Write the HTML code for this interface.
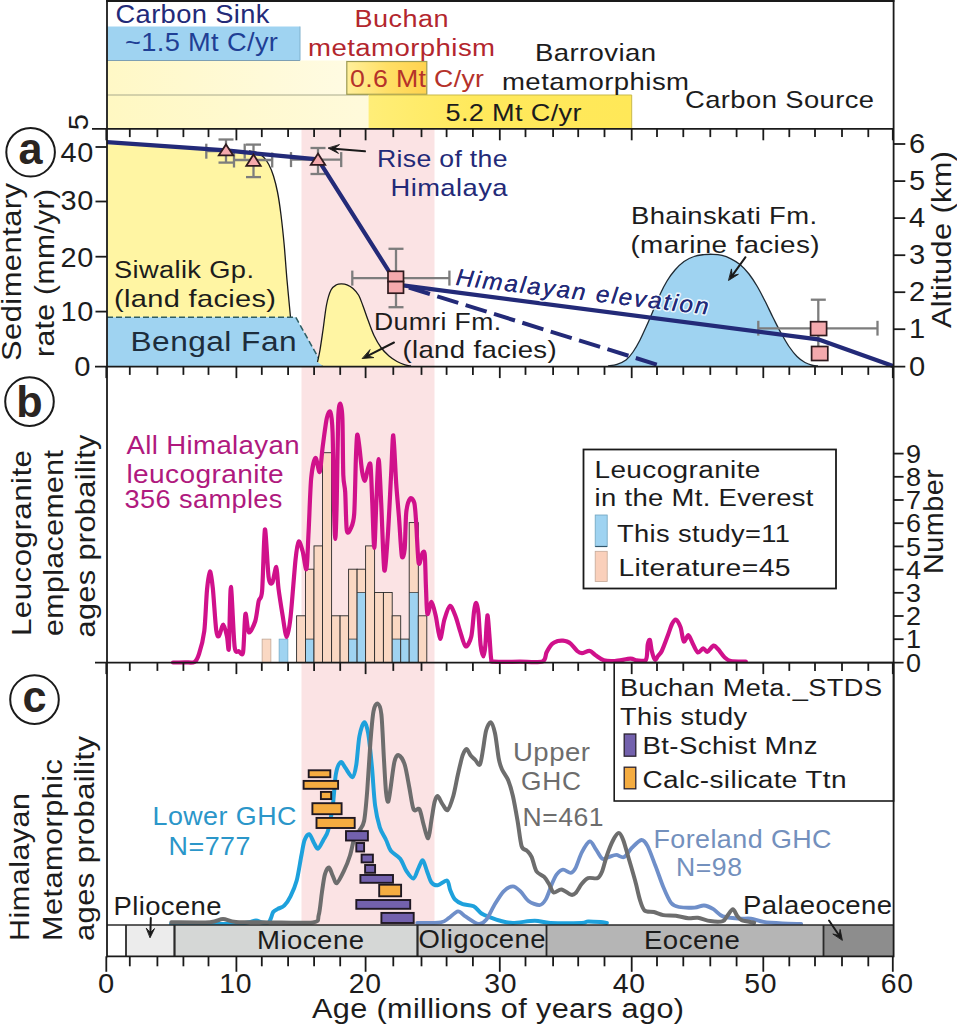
<!DOCTYPE html>
<html><head><meta charset="utf-8"><title>Himalaya figure</title>
<style>
html,body{margin:0;padding:0;background:#fff;}
body{width:957px;height:1024px;overflow:hidden;font-family:"Liberation Sans",sans-serif;}
svg{display:block;}
text{font-family:"Liberation Sans",sans-serif;}
</style></head><body>
<svg width="957" height="1024" viewBox="0 0 957 1024">
<rect x="0" y="0" width="957" height="1024" fill="#ffffff"/>
<defs>
<linearGradient id="ly1" x1="0" x2="1" y1="0" y2="0"><stop offset="0" stop-color="#fff8c6"/><stop offset="1" stop-color="#fffbe2"/></linearGradient>
<linearGradient id="ly2" x1="0" x2="1" y1="0" y2="0"><stop offset="0" stop-color="#fff8c2"/><stop offset="1" stop-color="#fffadb"/></linearGradient>
<linearGradient id="obox" x1="0" x2="1" y1="0" y2="0"><stop offset="0" stop-color="#ffef9a"/><stop offset="0.5" stop-color="#ffdf66"/><stop offset="1" stop-color="#ffd24e"/></linearGradient>
<linearGradient id="ybox" x1="0" x2="1" y1="0" y2="0"><stop offset="0" stop-color="#ffee78"/><stop offset="0.4" stop-color="#ffe95c"/><stop offset="1" stop-color="#ffe858"/></linearGradient>
</defs>
<rect x="301.5" y="129" width="133" height="796" fill="#fbe3e4"/>
<rect x="107" y="26.5" width="193" height="34" fill="#9fd3f1"/>
<rect x="107" y="60.5" width="240" height="34.5" fill="url(#ly1)"/>
<rect x="107" y="95" width="261.5" height="33.5" fill="url(#ly2)"/>
<line x1="107" y1="60.5" x2="300" y2="60.5" stroke="#7d9fb3" stroke-width="1"/>
<line x1="107" y1="95" x2="368" y2="95" stroke="#a9aa8c" stroke-width="1"/>
<line x1="300" y1="26.5" x2="300" y2="60.5" stroke="#7fb0cc" stroke-width="1"/>
<rect x="346.8" y="61.5" width="80" height="32.8" fill="url(#obox)" stroke="#9c9a52" stroke-width="1.2"/>
<rect x="368.5" y="95" width="263.2" height="33.3" fill="url(#ybox)"/>
<line x1="368.5" y1="95" x2="631.7" y2="95" stroke="#c9b94a" stroke-width="1"/>
<line x1="631.7" y1="95" x2="631.7" y2="128" stroke="#c9b94a" stroke-width="1"/>
<text x="0" y="0" font-size="25.00" fill="#232a78" transform="translate(115.5 22.6) scale(1.091 1)" textLength="141.1" lengthAdjust="spacing" >Carbon Sink</text>
<text x="0" y="0" font-size="25.30" fill="#1f3f95" transform="translate(125 51.4) scale(1.077 1)" textLength="142.0" lengthAdjust="spacing" >~1.5 Mt C/yr</text>
<text x="0" y="0" font-size="23.00" fill="#b3262d" transform="translate(354.5 27.2) scale(1.175 1)" textLength="80.0" lengthAdjust="spacing" >Buchan</text>
<text x="0" y="0" font-size="23.00" fill="#b3262d" transform="translate(308 56.2) scale(1.199 1)" textLength="156.0" lengthAdjust="spacing" >metamorphism</text>
<text x="0" y="0" font-size="24.00" fill="#b5322a" transform="translate(350 87) scale(1.113 1)" textLength="120.4" lengthAdjust="spacing" >0.6 Mt C/yr</text>
<text x="0" y="0" font-size="24.00" fill="#1c1c1c" transform="translate(535 60.7) scale(1.149 1)" textLength="105.4" lengthAdjust="spacing" >Barrovian</text>
<text x="0" y="0" font-size="24.00" fill="#1c1c1c" transform="translate(502 89.5) scale(1.149 1)" textLength="162.8" lengthAdjust="spacing" >metamorphism</text>
<text x="0" y="0" font-size="24.00" fill="#1c1c1c" transform="translate(685 107.8) scale(1.142 1)" textLength="165.6" lengthAdjust="spacing" >Carbon Source</text>
<text x="0" y="0" font-size="24.50" fill="#1c1c1c" transform="translate(445.5 120.6) scale(1.107 1)" textLength="122.9" lengthAdjust="spacing" >5.2 Mt C/yr</text>
<path d="M107,144 L226,150.5 L249.0,150.8 C250.3,151.1 254.6,151.6 257.0,152.6 C259.4,153.6 261.5,155.0 263.5,157.0 C265.5,159.0 267.1,161.3 268.8,164.5 C270.5,167.7 272.1,171.4 273.5,176.0 C274.9,180.6 276.2,185.5 277.5,192.0 C278.8,198.5 279.9,206.2 281.0,215.0 C282.1,223.8 283.2,234.2 284.2,245.0 C285.2,255.8 285.9,268.0 287.0,280.0 C288.1,292.0 289.9,311.0 290.5,317.2 L107,317.2 Z" fill="#fff5a3"/>
<path d="M249.0,150.8 C250.3,151.1 254.6,151.6 257.0,152.6 C259.4,153.6 261.5,155.0 263.5,157.0 C265.5,159.0 267.1,161.3 268.8,164.5 C270.5,167.7 272.1,171.4 273.5,176.0 C274.9,180.6 276.2,185.5 277.5,192.0 C278.8,198.5 279.9,206.2 281.0,215.0 C282.1,223.8 283.2,234.2 284.2,245.0 C285.2,255.8 285.9,268.0 287.0,280.0 C288.1,292.0 289.9,311.0 290.5,317.2" fill="none" stroke="#1a1a1a" stroke-width="1.3"/>
<path d="M107,317.2 L295.7,317.2 L323,366 L107,366 Z" fill="#9fd3f1"/>
<path d="M107,317.2 L295.7,317.2 L323,366" fill="none" stroke="#2e5d63" stroke-width="1.5" stroke-dasharray="6,3"/>
<path d="M317.5,362.0 C317.9,360.0 319.1,355.3 320.0,350.0 C320.9,344.7 321.9,337.5 323.0,330.0 C324.1,322.5 325.2,311.7 326.5,305.0 C327.8,298.3 329.3,293.4 331.0,290.0 C332.7,286.6 334.7,285.8 336.5,284.8 C338.3,283.8 339.9,283.9 341.6,283.9 C343.4,283.9 345.1,284.0 347.0,284.8 C348.9,285.6 351.1,286.8 353.0,288.5 C354.9,290.2 356.8,292.1 358.5,295.0 C360.2,297.9 361.4,301.8 363.0,306.0 C364.6,310.2 366.2,315.1 368.0,320.0 C369.8,324.9 371.8,330.9 374.0,335.5 C376.2,340.1 378.5,344.1 381.0,347.5 C383.5,350.9 386.3,353.7 389.0,356.0 C391.7,358.3 394.3,360.0 397.0,361.5 C399.7,363.0 402.7,364.1 405.0,364.8 C407.3,365.6 410.0,365.8 411.0,366.0 L323,366 Z" fill="#fff5a3"/>
<path d="M317.5,362.0 C317.9,360.0 319.1,355.3 320.0,350.0 C320.9,344.7 321.9,337.5 323.0,330.0 C324.1,322.5 325.2,311.7 326.5,305.0 C327.8,298.3 329.3,293.4 331.0,290.0 C332.7,286.6 334.7,285.8 336.5,284.8 C338.3,283.8 339.9,283.9 341.6,283.9 C343.4,283.9 345.1,284.0 347.0,284.8 C348.9,285.6 351.1,286.8 353.0,288.5 C354.9,290.2 356.8,292.1 358.5,295.0 C360.2,297.9 361.4,301.8 363.0,306.0 C364.6,310.2 366.2,315.1 368.0,320.0 C369.8,324.9 371.8,330.9 374.0,335.5 C376.2,340.1 378.5,344.1 381.0,347.5 C383.5,350.9 386.3,353.7 389.0,356.0 C391.7,358.3 394.3,360.0 397.0,361.5 C399.7,363.0 402.7,364.1 405.0,364.8 C407.3,365.6 410.0,365.8 411.0,366.0" fill="none" stroke="#1a1a1a" stroke-width="1.3"/>
<path d="M608.0,366.0 C609.5,365.7 614.0,365.3 617.0,364.3 C620.0,363.3 623.3,362.1 626.0,360.0 C628.7,357.9 630.7,355.3 633.0,352.0 C635.3,348.7 637.8,344.3 640.0,340.0 C642.2,335.7 644.3,330.8 646.5,326.0 C648.7,321.2 650.8,316.2 653.0,311.0 C655.2,305.8 657.7,299.5 660.0,294.5 C662.3,289.5 664.5,285.1 667.0,281.0 C669.5,276.9 672.2,273.2 675.0,270.0 C677.8,266.8 680.8,263.8 684.0,261.5 C687.2,259.2 690.7,257.6 694.0,256.5 C697.3,255.3 700.8,255.0 704.0,254.6 C707.2,254.2 710.0,254.2 713.0,254.3 C716.0,254.4 719.0,254.7 722.0,255.4 C725.0,256.1 728.0,257.3 731.0,258.8 C734.0,260.3 737.0,262.0 740.0,264.5 C743.0,267.0 746.2,270.4 749.0,274.0 C751.8,277.6 754.3,281.5 757.0,286.0 C759.7,290.5 762.3,295.8 765.0,301.0 C767.7,306.2 770.3,312.2 773.0,317.5 C775.7,322.8 778.3,328.2 781.0,333.0 C783.7,337.8 786.3,342.6 789.0,346.5 C791.7,350.4 794.3,353.8 797.0,356.5 C799.7,359.2 802.3,361.0 805.0,362.5 C807.7,364.0 810.8,364.9 813.0,365.5 C815.2,366.1 817.2,365.9 818.0,366.0 Z" fill="#9fd3f1"/>
<path d="M608.0,366.0 C609.5,365.7 614.0,365.3 617.0,364.3 C620.0,363.3 623.3,362.1 626.0,360.0 C628.7,357.9 630.7,355.3 633.0,352.0 C635.3,348.7 637.8,344.3 640.0,340.0 C642.2,335.7 644.3,330.8 646.5,326.0 C648.7,321.2 650.8,316.2 653.0,311.0 C655.2,305.8 657.7,299.5 660.0,294.5 C662.3,289.5 664.5,285.1 667.0,281.0 C669.5,276.9 672.2,273.2 675.0,270.0 C677.8,266.8 680.8,263.8 684.0,261.5 C687.2,259.2 690.7,257.6 694.0,256.5 C697.3,255.3 700.8,255.0 704.0,254.6 C707.2,254.2 710.0,254.2 713.0,254.3 C716.0,254.4 719.0,254.7 722.0,255.4 C725.0,256.1 728.0,257.3 731.0,258.8 C734.0,260.3 737.0,262.0 740.0,264.5 C743.0,267.0 746.2,270.4 749.0,274.0 C751.8,277.6 754.3,281.5 757.0,286.0 C759.7,290.5 762.3,295.8 765.0,301.0 C767.7,306.2 770.3,312.2 773.0,317.5 C775.7,322.8 778.3,328.2 781.0,333.0 C783.7,337.8 786.3,342.6 789.0,346.5 C791.7,350.4 794.3,353.8 797.0,356.5 C799.7,359.2 802.3,361.0 805.0,362.5 C807.7,364.0 810.8,364.9 813.0,365.5 C815.2,366.1 817.2,365.9 818.0,366.0" fill="none" stroke="#1f2a33" stroke-width="1.3"/>
<text x="0" y="0" font-size="24.00" fill="#1c1c1c" transform="translate(114 278.4) scale(1.137 1)" textLength="123.1" lengthAdjust="spacing" >Siwalik Gp.</text>
<text x="0" y="0" font-size="24.00" fill="#1c1c1c" transform="translate(114 307) scale(1.208 1)" textLength="134.1" lengthAdjust="spacing" >(land facies)</text>
<text x="0" y="0" font-size="27.50" fill="#1d2d3c" transform="translate(130.5 350.8) scale(1.151 1)" textLength="144.3" lengthAdjust="spacing" >Bengal Fan</text>
<text x="0" y="0" font-size="24.00" fill="#1c1c1c" transform="translate(374 329.6) scale(1.106 1)" textLength="114.9" lengthAdjust="spacing" >Dumri Fm.</text>
<text x="0" y="0" font-size="24.00" fill="#1c1c1c" transform="translate(402.5 357.8) scale(1.149 1)" textLength="134.1" lengthAdjust="spacing" >(land facies)</text>
<text x="0" y="0" font-size="24.00" fill="#1c1c1c" transform="translate(631 223.8) scale(1.143 1)" textLength="162.8" lengthAdjust="spacing" >Bhainskati Fm.</text>
<text x="0" y="0" font-size="24.00" fill="#1c1c1c" transform="translate(630.5 252.6) scale(1.161 1)" textLength="162.8" lengthAdjust="spacing" >(marine facies)</text>
<text x="0" y="0" font-size="24.00" fill="#232a78" transform="translate(377 167) scale(1.109 1)" textLength="117.7" lengthAdjust="spacing" >Rise of the</text>
<text x="0" y="0" font-size="24.00" fill="#232a78" transform="translate(390.5 196) scale(1.140 1)" textLength="102.6" lengthAdjust="spacing" >Himalaya</text>
<g stroke="#7d7d7d" stroke-width="2.3" fill="none"><line x1="206.3" y1="151.2" x2="244.7" y2="151.2"/><line x1="206.3" y1="143.7" x2="206.3" y2="158.7"/><line x1="244.7" y1="143.7" x2="244.7" y2="158.7"/><line x1="226" y1="139.5" x2="226" y2="162.6"/><line x1="218.5" y1="139.5" x2="233.5" y2="139.5"/><line x1="218.5" y1="162.6" x2="233.5" y2="162.6"/></g>
<g stroke="#7d7d7d" stroke-width="2.3" fill="none"><line x1="234" y1="160" x2="272.2" y2="160"/><line x1="234" y1="152.5" x2="234" y2="167.5"/><line x1="272.2" y1="152.5" x2="272.2" y2="167.5"/><line x1="253.5" y1="144.6" x2="253.5" y2="177.1"/><line x1="246.0" y1="144.6" x2="261.0" y2="144.6"/><line x1="246.0" y1="177.1" x2="261.0" y2="177.1"/></g>
<g stroke="#7d7d7d" stroke-width="2.3" fill="none"><line x1="291" y1="159.6" x2="341.2" y2="159.6"/><line x1="291" y1="152.1" x2="291" y2="167.1"/><line x1="341.2" y1="152.1" x2="341.2" y2="167.1"/><line x1="318" y1="148" x2="318" y2="174"/><line x1="310.5" y1="148" x2="325.5" y2="148"/><line x1="310.5" y1="174" x2="325.5" y2="174"/></g>
<g stroke="#7d7d7d" stroke-width="2.3" fill="none"><line x1="352.3" y1="278.1" x2="449.4" y2="278.1"/><line x1="352.3" y1="270.6" x2="352.3" y2="285.6"/><line x1="449.4" y1="270.6" x2="449.4" y2="285.6"/><line x1="396" y1="248.8" x2="396" y2="307.2"/><line x1="388.5" y1="248.8" x2="403.5" y2="248.8"/><line x1="388.5" y1="307.2" x2="403.5" y2="307.2"/></g>
<g stroke="#7d7d7d" stroke-width="2.3" fill="none"><line x1="758.3" y1="328.3" x2="877.5" y2="328.3"/><line x1="758.3" y1="320.8" x2="758.3" y2="335.6"/><line x1="877.5" y1="320.8" x2="877.5" y2="335.6"/><line x1="818.3" y1="299.7" x2="818.3" y2="347"/><line x1="810.8" y1="299.7" x2="825.8" y2="299.7"/></g>
<path d="M396,283.5 L661.5,366" fill="none" stroke="#232a78" stroke-width="4" stroke-dasharray="22,7.7" stroke-dashoffset="16.2"/>
<path d="M107,142.2 L226,150.3 L253,153.2 L318,159.3 L396,282.5 L397,284.6 L818,339.3 L893,366" fill="none" stroke="#232a78" stroke-width="4.2" stroke-linejoin="round"/>
<text x="0" y="0" font-size="23.6" font-style="italic" fill="#232a78" textLength="249.0" lengthAdjust="spacing" transform="translate(455.2 285) rotate(6.7) scale(1.02 1)" stroke="#ffffff" stroke-width="3.2" stroke-opacity="0.8" paint-order="stroke" stroke-linejoin="round">Himalayan elevation</text>
<text x="0" y="0" font-size="23.6" font-style="italic" fill="#232a78" textLength="249.0" lengthAdjust="spacing" transform="translate(455.2 285) rotate(6.7) scale(1.02 1)" >Himalayan elevation</text>
<path d="M226,144.4 L233.2,155.3 L218.8,155.3 Z" fill="#f4a9ad" stroke="#2e1a1e" stroke-width="1.8" stroke-linejoin="miter"/>
<path d="M253.5,154.4 L260.7,165.8 L246.3,165.8 Z" fill="#f4a9ad" stroke="#2e1a1e" stroke-width="1.8" stroke-linejoin="miter"/>
<path d="M318,153.6 L325.2,164.8 L310.8,164.8 Z" fill="#f4a9ad" stroke="#2e1a1e" stroke-width="1.8" stroke-linejoin="miter"/>
<rect x="388" y="271.3" width="15.5" height="10.3" fill="#f4a9ad" stroke="#2e1a1e" stroke-width="1.7"/>
<rect x="388" y="281.6" width="15.5" height="11.6" fill="#f4a9ad" stroke="#2e1a1e" stroke-width="1.7"/>
<rect x="810.6" y="321.7" width="16" height="13.8" fill="#f4a9ad" stroke="#2e1a1e" stroke-width="1.7"/>
<rect x="811.6" y="346.5" width="16.2" height="14" fill="#f4a9ad" stroke="#2e1a1e" stroke-width="1.7"/>
<g stroke="#1a1a1a" fill="#1a1a1a" stroke-linejoin="round" stroke-linecap="round"><line x1="365.0" y1="151.3" x2="334.2" y2="148.7" stroke-width="2.0"/><path d="M328.4,148.2 L338.5,153.4 L334.2,148.7 L339.2,144.8 Z" stroke-width="0.9"/></g>
<g stroke="#1a1a1a" fill="#1a1a1a" stroke-linejoin="round" stroke-linecap="round"><line x1="394.0" y1="342.5" x2="367.6" y2="355.9" stroke-width="2.0"/><path d="M362.5,358.5 L373.8,357.6 L367.6,355.9 L369.9,349.9 Z" stroke-width="0.9"/></g>
<g stroke="#1a1a1a" fill="#1a1a1a" stroke-linejoin="round" stroke-linecap="round"><line x1="745.5" y1="257.2" x2="732.2" y2="275.6" stroke-width="2.0"/><path d="M728.8,280.3 L738.4,274.3 L732.2,275.6 L731.5,269.3 Z" stroke-width="0.9"/></g>
<rect x="262.1" y="639.1" width="8.8" height="23.3" fill="#fad8c3" stroke="#b9a08f" stroke-width="0.7"/>
<rect x="279.1" y="639.1" width="8.8" height="23.3" fill="#9fd3f1" stroke="#6fa6c4" stroke-width="0.7"/>
<rect x="296.6" y="615.8" width="8.9" height="46.6" fill="#fad8c3"/>
<rect x="296.6" y="615.8" width="8.9" height="46.6" fill="none" stroke="#2a2a2a" stroke-width="0.9"/>
<rect x="305.5" y="569.2" width="8.5" height="93.2" fill="#fad8c3"/>
<rect x="305.5" y="639.1" width="8.5" height="23.3" fill="#9fd3f1"/>
<rect x="305.5" y="569.2" width="8.5" height="93.2" fill="none" stroke="#2a2a2a" stroke-width="0.9"/>
<line x1="305.5" y1="639.1" x2="314" y2="639.1" stroke="#2a2a2a" stroke-width="0.7"/>
<rect x="314" y="545.9" width="8.5" height="116.5" fill="#fad8c3"/>
<rect x="314" y="545.9" width="8.5" height="116.5" fill="none" stroke="#2a2a2a" stroke-width="0.9"/>
<rect x="322.5" y="452.7" width="9.1" height="209.7" fill="#fad8c3"/>
<rect x="322.5" y="452.7" width="9.1" height="209.7" fill="none" stroke="#2a2a2a" stroke-width="0.9"/>
<rect x="331.6" y="615.8" width="8.5" height="46.6" fill="#fad8c3"/>
<rect x="331.6" y="615.8" width="8.5" height="46.6" fill="none" stroke="#2a2a2a" stroke-width="0.9"/>
<rect x="340.1" y="615.8" width="8.5" height="46.6" fill="#fad8c3"/>
<rect x="340.1" y="615.8" width="8.5" height="46.6" fill="none" stroke="#2a2a2a" stroke-width="0.9"/>
<rect x="348.6" y="569.2" width="8.5" height="93.2" fill="#fad8c3"/>
<rect x="348.6" y="639.1" width="8.5" height="23.3" fill="#9fd3f1"/>
<rect x="348.6" y="569.2" width="8.5" height="93.2" fill="none" stroke="#2a2a2a" stroke-width="0.9"/>
<line x1="348.6" y1="639.1" x2="357.1" y2="639.1" stroke="#2a2a2a" stroke-width="0.7"/>
<rect x="357.1" y="569.2" width="8.5" height="93.2" fill="#fad8c3"/>
<rect x="357.1" y="592.5" width="8.5" height="69.9" fill="#9fd3f1"/>
<rect x="357.1" y="569.2" width="8.5" height="93.2" fill="none" stroke="#2a2a2a" stroke-width="0.9"/>
<line x1="357.1" y1="592.5" x2="365.6" y2="592.5" stroke="#2a2a2a" stroke-width="0.7"/>
<rect x="365.6" y="545.9" width="9.0" height="116.5" fill="#fad8c3"/>
<rect x="365.6" y="545.9" width="9.0" height="116.5" fill="none" stroke="#2a2a2a" stroke-width="0.9"/>
<rect x="374.6" y="592.5" width="8.8" height="69.9" fill="#fad8c3"/>
<rect x="374.6" y="592.5" width="8.8" height="69.9" fill="none" stroke="#2a2a2a" stroke-width="0.9"/>
<rect x="383.4" y="592.5" width="8.8" height="69.9" fill="#fad8c3"/>
<rect x="383.4" y="592.5" width="8.8" height="69.9" fill="none" stroke="#2a2a2a" stroke-width="0.9"/>
<rect x="392.2" y="615.8" width="8.5" height="46.6" fill="#fad8c3"/>
<rect x="392.2" y="639.1" width="8.5" height="23.3" fill="#9fd3f1"/>
<rect x="392.2" y="615.8" width="8.5" height="46.6" fill="none" stroke="#2a2a2a" stroke-width="0.9"/>
<line x1="392.2" y1="639.1" x2="400.7" y2="639.1" stroke="#2a2a2a" stroke-width="0.7"/>
<rect x="400.7" y="639.1" width="8.5" height="23.3" fill="#fad8c3"/>
<rect x="400.7" y="639.1" width="8.5" height="23.3" fill="#9fd3f1"/>
<rect x="400.7" y="639.1" width="8.5" height="23.3" fill="none" stroke="#2a2a2a" stroke-width="0.9"/>
<rect x="409.2" y="522.6" width="9.1" height="139.8" fill="#fad8c3"/>
<rect x="409.2" y="592.5" width="9.1" height="69.9" fill="#9fd3f1"/>
<rect x="409.2" y="522.6" width="9.1" height="139.8" fill="none" stroke="#2a2a2a" stroke-width="0.9"/>
<line x1="409.2" y1="592.5" x2="418.3" y2="592.5" stroke="#2a2a2a" stroke-width="0.7"/>
<rect x="418.3" y="615.8" width="8.5" height="46.6" fill="#fad8c3"/>
<rect x="418.3" y="615.8" width="8.5" height="46.6" fill="none" stroke="#2a2a2a" stroke-width="0.9"/>
<path d="M173.0,662.5 C174.7,662.5 182.0,662.4 185.0,662.3 C188.0,662.2 192.5,663.2 194.5,662.0 C196.5,660.8 197.6,658.3 199.0,654.0 C200.4,649.7 203.2,640.0 204.3,631.0 C205.4,622.0 206.2,598.3 207.0,590.0 C207.8,581.7 209.1,571.8 209.9,571.5 C210.7,571.2 211.9,579.8 212.8,588.0 C213.7,596.2 215.3,623.3 216.2,630.0 C217.1,636.7 218.0,636.8 219.0,636.0 C220.0,635.2 222.2,624.5 223.3,624.6 C224.4,624.7 226.2,633.2 227.0,636.5 C227.8,639.8 228.4,654.9 228.9,648.0 C229.4,641.1 230.1,587.2 230.9,587.0 C231.7,586.8 233.5,637.4 234.6,646.4 C235.7,655.4 237.7,650.5 238.9,651.3 C240.1,652.1 242.2,657.3 243.1,652.1 C244.0,646.9 244.6,616.8 245.4,614.0 C246.2,611.2 247.4,631.3 248.8,632.3 C250.2,633.3 253.9,625.4 255.3,621.0 C256.7,616.6 257.7,605.2 258.7,601.0 C259.7,596.8 261.2,601.0 262.1,591.0 C263.0,581.0 264.0,531.4 264.9,529.4 C265.8,527.4 267.6,569.5 268.6,577.0 C269.6,584.5 271.2,584.1 272.3,582.7 C273.4,581.3 275.4,566.2 276.3,567.0 C277.2,567.8 277.6,581.4 278.5,588.4 C279.4,595.4 281.7,609.9 282.8,616.7 C283.9,623.5 285.6,637.0 286.7,637.0 C287.8,637.0 289.4,627.5 290.6,616.7 C291.8,605.9 294.4,570.5 295.5,560.0 C296.6,549.5 297.7,542.8 298.7,541.6 C299.7,540.4 301.6,547.7 302.7,551.5 C303.8,555.3 305.7,571.8 306.5,569.0 C307.3,566.2 307.9,544.4 308.6,531.7 C309.3,519.0 310.2,488.3 311.2,478.0 C312.2,467.7 314.3,458.8 315.5,458.0 C316.7,457.2 318.7,473.6 319.7,472.0 C320.7,470.4 321.7,454.2 322.7,446.7 C323.7,439.2 325.7,423.2 326.8,418.3 C327.9,413.4 329.6,410.0 330.4,412.0 C331.2,414.0 332.1,419.8 332.6,432.5 C333.1,445.2 333.5,488.1 333.9,503.0 C334.3,517.9 334.9,539.0 335.3,539.0 C335.7,539.0 336.3,519.9 336.7,503.0 C337.1,486.1 337.7,432.2 338.2,418.3 C338.7,404.4 339.8,403.6 340.4,403.6 C341.0,403.6 342.0,408.3 342.4,418.3 C342.8,428.3 342.9,464.7 343.3,475.0 C343.7,485.3 344.7,484.3 345.2,492.0 C345.7,499.7 346.0,525.2 346.8,530.3 C347.6,535.4 349.8,530.8 350.8,528.5 C351.8,526.2 353.5,523.5 354.2,514.0 C354.9,504.6 355.4,472.1 355.8,461.0 C356.2,449.9 356.7,436.8 357.2,434.8 C357.7,432.8 358.7,441.8 359.4,447.0 C360.1,452.2 361.4,467.5 362.2,472.2 C363.0,476.9 364.2,481.1 365.0,480.7 C365.8,480.3 367.0,471.5 367.8,469.3 C368.6,467.1 369.9,460.3 370.5,465.0 C371.1,469.7 371.8,491.4 372.3,503.0 C372.8,514.6 373.7,548.0 374.3,548.0 C374.9,548.0 375.7,515.5 376.3,503.0 C376.9,490.5 377.9,459.0 378.6,459.0 C379.3,459.0 380.4,487.5 381.2,503.0 C382.0,518.5 383.4,565.2 384.3,570.0 C385.2,574.8 386.7,550.7 387.7,537.4 C388.7,524.1 390.3,489.3 391.1,475.0 C391.9,460.7 392.6,434.1 393.3,435.3 C394.0,436.5 395.4,472.0 396.2,483.5 C397.0,495.0 398.2,507.4 399.0,517.5 C399.8,527.6 401.0,551.4 401.8,555.8 C402.6,560.2 404.1,554.8 404.7,548.7 C405.3,542.6 405.5,519.0 406.3,512.0 C407.1,505.0 409.2,499.7 410.3,498.5 C411.4,497.3 413.6,499.8 414.4,503.3 C415.2,506.8 415.6,514.8 416.2,523.2 C416.8,531.6 417.8,558.8 418.7,563.0 C419.6,567.2 421.6,554.1 422.5,553.0 C423.4,551.9 424.3,550.0 424.8,555.0 C425.3,560.0 425.6,580.1 426.0,588.4 C426.4,596.7 426.6,612.1 427.4,614.0 C428.2,615.9 430.4,601.6 431.6,602.0 C432.8,602.4 434.7,611.5 435.9,616.7 C437.1,621.9 438.9,638.4 440.1,638.8 C441.3,639.2 443.0,624.1 444.4,619.5 C445.8,614.9 448.4,606.3 450.0,605.9 C451.6,605.5 454.3,613.2 455.7,616.7 C457.1,620.2 458.6,626.7 460.0,630.9 C461.4,635.1 464.0,645.6 465.6,646.4 C467.2,647.2 470.1,641.5 471.3,636.5 C472.5,631.5 473.4,615.7 474.1,611.0 C474.8,606.3 475.6,602.6 476.2,603.0 C476.8,603.4 477.9,608.1 478.5,614.0 C479.1,619.9 479.9,639.1 480.6,645.0 C481.3,650.9 482.8,656.4 483.5,656.4 C484.2,656.4 484.9,650.8 485.4,645.0 C485.9,639.2 486.8,616.1 487.4,615.3 C488.0,614.5 489.2,633.3 489.7,639.4 C490.2,645.5 490.6,656.1 491.2,659.2 C491.8,662.3 490.0,661.4 494.0,661.7 C498.0,662.1 513.2,661.7 520.0,661.7 C526.8,661.7 538.8,662.8 542.5,661.5 C546.2,660.2 545.2,655.0 546.5,652.5 C547.8,650.0 550.4,645.6 552.0,644.0 C553.6,642.4 556.5,641.5 558.0,641.0 C559.5,640.5 561.7,640.5 563.0,640.6 C564.3,640.7 565.9,641.0 567.0,641.5 C568.1,642.0 569.6,642.7 571.0,644.0 C572.4,645.3 575.7,649.7 577.2,651.0 C578.7,652.3 580.2,653.1 582.0,653.1 C583.8,653.1 587.7,650.5 589.7,650.9 C591.7,651.2 594.0,654.3 596.0,655.6 C598.0,656.9 601.2,659.5 603.8,660.3 C606.4,661.1 611.1,661.2 614.8,661.0 C618.5,660.8 627.4,658.8 630.5,658.7 C633.6,658.6 634.5,660.2 636.7,660.3 C638.9,660.4 644.5,661.9 646.0,659.7 C647.5,657.5 647.2,647.4 647.7,644.6 C648.2,641.8 649.3,639.1 649.9,640.0 C650.5,640.9 651.1,648.2 651.8,651.0 C652.5,653.8 654.0,659.0 654.9,659.7 C655.8,660.4 657.0,657.2 658.0,656.0 C659.0,654.8 660.4,653.9 661.8,651.0 C663.2,648.1 666.6,638.8 668.0,635.0 C669.4,631.2 670.9,626.2 672.0,624.0 C673.1,621.8 674.7,619.1 675.9,619.6 C677.1,620.1 679.5,624.3 680.6,627.4 C681.7,630.5 682.7,640.4 683.8,641.5 C684.9,642.6 687.2,634.8 688.5,635.2 C689.8,635.6 691.9,642.2 693.2,644.6 C694.5,647.0 696.5,652.0 697.9,652.5 C699.3,653.0 701.9,648.5 703.2,648.4 C704.5,648.3 705.9,652.2 707.3,651.8 C708.7,651.4 712.0,646.0 713.5,645.6 C715.0,645.2 716.7,647.7 718.2,649.3 C719.7,650.9 722.7,655.6 724.5,657.2 C726.3,658.8 727.8,660.4 730.8,661.0 C733.8,661.6 743.7,661.5 745.8,661.6" fill="none" stroke="#d0118b" stroke-width="4.2" stroke-linejoin="round" stroke-linecap="round"/>
<text x="0" y="0" font-size="25.80" fill="#b0197e" transform="translate(126.5 453.8) scale(1.069 1)" textLength="161.8" lengthAdjust="spacing" >All Himalayan</text>
<text x="0" y="0" font-size="25.80" fill="#b0197e" transform="translate(126.5 482.8) scale(1.089 1)" textLength="144.2" lengthAdjust="spacing" >leucogranite</text>
<text x="0" y="0" font-size="25.80" fill="#b0197e" transform="translate(124.5 508.4) scale(1.053 1)" textLength="150.0" lengthAdjust="spacing" >356 samples</text>
<rect x="583.5" y="449.5" width="252.5" height="139" fill="#ffffff" stroke="#1a1a1a" stroke-width="1.8"/>
<text x="0" y="0" font-size="24.50" fill="#1c1c1c" transform="translate(594.5 477.7) scale(1.142 1)" textLength="145.3" lengthAdjust="spacing" >Leucogranite</text>
<text x="0" y="0" font-size="24.50" fill="#1c1c1c" transform="translate(594.5 506) scale(1.120 1)" textLength="195.5" lengthAdjust="spacing" >in the Mt. Everest</text>
<rect x="595.2" y="515" width="12" height="31.5" fill="#9fd3f1" stroke="#6fa3bf" stroke-width="0.8"/>
<line x1="595.2" y1="546.5" x2="607.2" y2="546.5" stroke="#33576b" stroke-width="1.2"/>
<rect x="595.2" y="551.3" width="12" height="30.3" fill="#fad0bb" stroke="#c4a998" stroke-width="0.8"/>
<text x="0" y="0" font-size="24.50" fill="#1c1c1c" transform="translate(617 542.4) scale(1.114 1)" textLength="155.3" lengthAdjust="spacing" >This study=11</text>
<text x="0" y="0" font-size="24.50" fill="#1c1c1c" transform="translate(618.5 575.6) scale(1.156 1)" textLength="148.8" lengthAdjust="spacing" >Literature=45</text>
<path d="M171.0,924.0 C175.3,924.0 190.4,924.0 200.0,924.0 C209.6,924.0 227.8,924.0 235.0,923.8 C242.2,923.6 244.8,923.0 248.0,922.5 C251.2,922.0 253.9,920.5 256.0,920.5 C258.1,920.5 260.1,922.2 262.0,922.5 C263.9,922.8 267.1,923.2 268.5,922.5 C269.9,921.8 270.3,919.6 271.0,918.0 C271.7,916.4 272.2,913.4 273.2,912.0 C274.2,910.6 276.2,909.7 277.9,908.8 C279.5,907.9 282.3,907.6 284.2,905.7 C286.1,903.8 288.6,900.1 290.5,896.3 C292.4,892.5 295.1,886.7 296.7,880.6 C298.3,874.5 300.2,861.6 301.4,855.5 C302.6,849.4 303.4,843.2 304.6,840.0 C305.8,836.8 307.9,833.8 309.3,834.2 C310.7,834.7 312.7,840.8 314.0,843.0 C315.3,845.2 316.7,849.2 318.1,848.7 C319.5,848.2 321.9,842.7 323.4,840.0 C324.9,837.3 326.7,835.7 328.1,830.5 C329.5,825.3 331.6,813.9 332.8,805.4 C334.0,796.9 334.7,780.5 335.9,774.0 C337.1,767.5 339.2,763.0 340.6,762.1 C342.0,761.2 343.5,765.5 345.3,767.8 C347.1,770.1 350.9,777.7 352.5,777.2 C354.1,776.7 355.3,770.7 356.3,764.6 C357.3,758.5 358.2,742.7 359.4,736.4 C360.6,730.1 362.8,722.8 364.1,722.3 C365.4,721.8 367.0,726.5 368.2,733.3 C369.4,740.1 371.0,757.0 372.0,767.8 C373.0,778.6 373.9,796.5 375.1,805.4 C376.3,814.3 378.2,822.1 379.8,827.3 C381.4,832.5 384.5,836.5 386.1,840.0 C387.8,843.5 388.7,848.0 390.8,850.8 C392.9,853.6 397.8,855.6 400.2,858.7 C402.6,861.8 404.5,868.2 406.5,871.2 C408.5,874.2 411.7,879.0 413.5,878.5 C415.3,878.0 417.1,870.8 418.5,868.1 C419.9,865.4 421.5,859.8 422.8,860.3 C424.1,860.8 425.7,867.9 427.0,871.2 C428.3,874.5 429.7,880.1 431.3,882.2 C432.9,884.3 435.2,885.5 437.6,885.3 C440.0,885.1 445.1,879.9 447.0,880.6 C448.9,881.3 449.0,887.2 450.2,890.0 C451.4,892.8 453.0,897.3 454.9,899.4 C456.8,901.5 459.9,903.1 462.7,904.1 C465.5,905.1 470.9,904.9 473.7,906.3 C476.5,907.7 478.9,911.8 481.5,913.5 C484.1,915.2 488.1,916.5 490.9,917.6 C493.7,918.7 497.0,920.0 500.3,920.8 C503.6,921.6 507.7,922.9 512.9,922.9 C518.1,922.9 529.2,920.8 534.8,920.8 C540.4,920.8 543.5,922.6 550.5,922.9 C557.5,923.2 576.2,923.1 581.8,922.9 C587.4,922.7 585.3,921.5 588.1,921.4 C590.9,921.3 597.8,921.8 600.6,922.0 C603.4,922.2 606.0,922.8 606.9,922.9" fill="none" stroke="#1ea1dc" stroke-width="4" stroke-linejoin="round" stroke-linecap="round"/>
<path d="M417.2,923.0 C420.7,922.9 436.1,923.0 440.8,922.3 C445.5,921.6 446.0,919.9 448.6,918.2 C451.2,916.6 455.4,911.5 458.0,911.3 C460.6,911.1 462.7,914.8 465.8,916.7 C468.9,918.6 475.3,923.4 478.4,923.9 C481.5,924.4 483.9,922.5 486.2,919.8 C488.5,917.1 491.4,909.9 494.0,905.7 C496.6,901.5 500.6,894.5 503.4,891.6 C506.2,888.7 510.3,886.3 512.9,886.3 C515.5,886.3 518.4,889.4 520.7,891.6 C523.0,893.8 525.7,899.0 528.5,901.0 C531.3,903.0 536.9,905.3 539.5,905.1 C542.1,904.9 543.9,902.6 545.8,899.4 C547.7,896.2 550.4,887.5 552.0,883.8 C553.6,880.0 555.1,876.5 556.7,874.4 C558.4,872.3 560.9,869.9 563.0,869.7 C565.1,869.5 568.9,873.0 570.8,872.8 C572.7,872.6 573.9,871.2 575.5,868.1 C577.1,865.0 579.7,856.4 581.8,852.4 C583.9,848.4 587.6,841.9 589.7,841.4 C591.8,840.9 594.0,846.7 595.9,849.3 C597.8,851.9 600.3,857.5 602.2,858.7 C604.1,859.9 606.4,857.7 608.5,857.1 C610.6,856.5 614.0,854.9 616.3,854.9 C618.6,854.9 621.7,858.2 624.1,857.1 C626.5,856.0 629.4,850.3 632.0,847.7 C634.6,845.1 639.1,840.2 641.4,840.0 C643.7,839.8 645.5,842.2 647.6,846.1 C649.7,850.0 653.1,859.9 655.5,866.0 C657.9,872.1 661.0,881.5 663.3,887.0 C665.6,892.5 668.8,899.9 671.1,902.9 C673.4,905.9 675.4,906.3 678.9,907.0 C682.4,907.7 690.8,907.8 694.6,907.6 C698.4,907.4 701.2,905.3 704.0,905.5 C706.8,905.7 710.6,907.6 713.4,909.2 C716.2,910.8 719.0,915.0 722.8,916.4 C726.6,917.8 734.3,918.3 738.5,918.6 C742.7,918.9 747.2,918.1 751.0,918.6 C754.8,919.1 758.9,921.1 763.6,921.8 C768.3,922.5 776.8,923.0 782.4,923.3 C788.0,923.6 798.4,923.8 801.2,923.9" fill="none" stroke="#6f8fc9" stroke-width="3.8" stroke-linejoin="round" stroke-linecap="round"/>
<path d="M171.3,922.3 C177.1,922.3 202.2,922.8 210.0,922.3 C217.8,921.8 219.1,919.0 223.0,919.0 C226.9,919.0 228.9,921.5 236.0,922.0 C243.1,922.5 258.4,922.3 270.0,922.4 C281.6,922.5 305.7,923.5 313.0,922.4 C320.3,921.3 317.4,919.5 318.7,915.1 C320.0,910.7 320.9,899.3 321.8,893.2 C322.7,887.1 323.8,878.3 324.9,874.4 C326.0,870.5 327.8,867.3 329.0,867.5 C330.2,867.7 331.6,873.6 332.8,875.9 C334.0,878.2 335.2,883.8 336.9,883.1 C338.5,882.4 341.8,875.3 343.8,871.2 C345.8,867.1 348.4,860.7 350.0,855.5 C351.6,850.3 353.3,840.5 354.7,836.7 C356.1,833.0 358.0,832.9 359.4,830.5 C360.8,828.1 362.9,827.1 364.1,821.0 C365.3,814.9 366.4,801.4 367.3,789.7 C368.2,778.0 369.5,754.5 370.4,742.7 C371.3,730.9 372.4,717.2 373.5,711.3 C374.6,705.4 376.4,703.0 377.6,703.5 C378.8,704.0 380.5,706.3 381.4,714.5 C382.3,722.7 383.2,746.6 383.9,758.4 C384.6,770.2 385.4,786.4 386.1,792.9 C386.8,799.4 387.6,802.5 388.3,801.6 C389.0,800.7 389.9,792.6 390.8,786.6 C391.7,780.6 393.3,766.2 394.5,761.5 C395.7,756.8 397.1,754.7 398.6,755.2 C400.1,755.7 403.1,759.7 404.7,764.6 C406.3,769.5 408.1,781.3 409.4,788.0 C410.7,794.7 412.1,806.3 413.6,809.5 C415.1,812.7 417.9,807.0 419.4,809.2 C420.9,811.4 422.2,819.8 423.5,824.2 C424.8,828.6 427.0,838.8 428.2,838.3 C429.4,837.8 430.4,826.5 431.3,821.1 C432.2,815.7 433.6,806.1 434.5,802.3 C435.4,798.5 436.4,795.8 437.6,796.0 C438.8,796.2 440.8,801.7 442.3,803.8 C443.8,805.9 446.0,811.3 447.6,810.1 C449.2,808.9 451.7,801.4 453.3,796.0 C454.9,790.6 456.6,780.1 458.0,774.0 C459.4,767.9 461.4,759.0 462.7,755.2 C464.0,751.5 465.3,749.0 466.5,749.0 C467.7,749.0 469.2,753.6 470.5,755.2 C471.8,756.8 473.8,758.5 475.2,759.9 C476.6,761.3 478.7,766.2 479.9,764.6 C481.1,763.0 482.2,754.2 483.1,749.0 C484.0,743.8 485.0,734.2 486.2,730.2 C487.4,726.2 489.6,721.8 490.9,722.3 C492.2,722.8 493.8,727.9 495.0,733.3 C496.2,738.7 497.7,753.0 498.7,758.4 C499.7,763.8 500.5,766.0 501.9,769.3 C503.3,772.6 506.6,776.3 508.2,780.3 C509.8,784.3 511.5,789.9 512.9,796.0 C514.3,802.1 516.3,813.6 517.6,821.1 C518.9,828.6 520.2,841.6 521.6,846.1 C523.0,850.6 525.5,849.1 527.0,850.8 C528.5,852.4 530.3,854.0 531.7,857.1 C533.1,860.2 534.5,868.2 536.4,871.2 C538.3,874.2 542.3,875.0 544.2,876.9 C546.1,878.8 547.5,881.5 548.9,883.8 C550.3,886.1 551.7,891.7 553.6,892.5 C555.5,893.3 558.8,889.1 561.4,889.4 C564.0,889.7 568.7,894.1 570.8,894.7 C572.9,895.3 573.9,894.8 575.5,893.2 C577.1,891.6 579.9,886.1 581.8,883.8 C583.7,881.5 585.7,879.0 588.1,878.1 C590.5,877.2 595.4,879.1 597.5,878.1 C599.6,877.1 600.8,874.6 602.2,871.2 C603.6,867.8 605.2,860.2 606.9,855.5 C608.5,850.8 611.4,843.4 613.2,840.0 C615.0,836.6 617.3,833.0 618.8,833.0 C620.3,833.0 621.7,836.1 623.2,840.0 C624.7,843.9 627.0,852.6 628.8,858.7 C630.6,864.8 633.5,874.5 635.1,880.6 C636.8,886.7 638.4,894.9 639.8,899.4 C641.2,903.9 642.4,908.5 644.5,910.4 C646.6,912.3 651.1,911.3 653.9,912.0 C656.7,912.7 660.0,914.5 663.3,915.1 C666.6,915.7 672.1,915.2 675.9,915.7 C679.7,916.2 685.1,917.9 688.4,918.2 C691.7,918.5 694.5,917.3 697.8,917.7 C701.1,918.1 706.5,920.6 710.3,921.1 C714.0,921.6 720.2,921.9 722.8,921.1 C725.4,920.3 726.0,917.3 727.5,915.5 C729.0,913.7 731.5,909.2 732.9,909.2 C734.3,909.2 735.6,913.9 736.9,915.5 C738.2,917.1 739.0,919.1 741.6,920.2 C744.2,921.3 752.3,922.3 754.2,922.7" fill="none" stroke="#6d6d6d" stroke-width="4" stroke-linejoin="round" stroke-linecap="round"/>
<rect x="308.7" y="770.3" width="21.6" height="6.9" fill="#f5ac41" stroke="#1f1822" stroke-width="1.9"/>
<rect x="303.6" y="780.9" width="34.5" height="7.9" fill="#f5ac41" stroke="#1f1822" stroke-width="1.9"/>
<rect x="320.9" y="791.9" width="10.3" height="7.2" fill="#f5ac41" stroke="#1f1822" stroke-width="1.9"/>
<rect x="312.4" y="803.2" width="29.2" height="11.0" fill="#f5ac41" stroke="#1f1822" stroke-width="1.9"/>
<rect x="316.5" y="817.9" width="38.2" height="10.1" fill="#f5ac41" stroke="#1f1822" stroke-width="1.9"/>
<rect x="346" y="831.1" width="21.9" height="9.4" fill="#7361ad" stroke="#1f1822" stroke-width="1.9"/>
<rect x="356.3" y="843" width="7.8" height="8.5" fill="#7361ad" stroke="#1f1822" stroke-width="1.9"/>
<rect x="361.6" y="854.6" width="11.3" height="7.8" fill="#7361ad" stroke="#1f1822" stroke-width="1.9"/>
<rect x="365.1" y="865" width="10.0" height="7.8" fill="#7361ad" stroke="#1f1822" stroke-width="1.9"/>
<rect x="360.4" y="875" width="32.6" height="7.8" fill="#7361ad" stroke="#1f1822" stroke-width="1.9"/>
<rect x="379.2" y="884.7" width="21.9" height="11.6" fill="#f5ac41" stroke="#1f1822" stroke-width="1.9"/>
<rect x="356.3" y="900" width="53.9" height="8.8" fill="#7361ad" stroke="#1f1822" stroke-width="1.9"/>
<rect x="381.4" y="912.9" width="32.3" height="10.1" fill="#7361ad" stroke="#1f1822" stroke-width="1.9"/>
<rect x="107" y="925" width="19" height="31" fill="#ffffff"/>
<rect x="126" y="925" width="48.5" height="31" fill="#ececec"/>
<rect x="174.5" y="925" width="243" height="31" fill="#d5d7d6"/>
<rect x="417.5" y="925" width="129" height="31" fill="#c8c8c8"/>
<rect x="546.5" y="925" width="277" height="31" fill="#b5b5b5"/>
<rect x="823.5" y="925" width="70" height="31" fill="#8d8d8d"/>
<g stroke="#2a2a2a" stroke-width="1.8"><line x1="107" y1="925" x2="893.6" y2="925" stroke-width="1.6"/><line x1="126" y1="925" x2="126" y2="956"/><line x1="174.5" y1="925" x2="174.5" y2="956" stroke-width="2.2"/><line x1="417.5" y1="925" x2="417.5" y2="956" stroke-width="2.2"/><line x1="546.5" y1="925" x2="546.5" y2="956"/><line x1="823.5" y1="925" x2="823.5" y2="956"/></g>
<g stroke="#1a1a1a" fill="#1a1a1a" stroke-linejoin="round" stroke-linecap="round"><line x1="150.8" y1="918.0" x2="150.4" y2="932.6" stroke-width="2.0"/><path d="M150.2,937.5 L154.5,928.6 L150.4,932.6 L146.5,928.4 Z" stroke-width="0.9"/></g>
<g stroke="#1a1a1a" fill="#1a1a1a" stroke-linejoin="round" stroke-linecap="round"><line x1="829.0" y1="920.5" x2="839.2" y2="935.5" stroke-width="2.0"/><path d="M842.3,940.0 L840.1,929.4 L839.2,935.5 L833.2,934.1 Z" stroke-width="0.9"/></g>
<text x="0" y="0" font-size="26.00" fill="#1c1c1c" transform="translate(257 949) scale(1.062 1)" textLength="100.8" lengthAdjust="spacing" >Miocene</text>
<text x="0" y="0" font-size="26.00" fill="#1c1c1c" transform="translate(418.5 948) scale(1.058 1)" textLength="120.1" lengthAdjust="spacing" >Oligocene</text>
<text x="0" y="0" font-size="26.00" fill="#1c1c1c" transform="translate(644 949) scale(1.061 1)" textLength="90.4" lengthAdjust="spacing" >Eocene</text>
<text x="0" y="0" font-size="26.00" fill="#1c1c1c" transform="translate(113.5 914.9) scale(1.056 1)" textLength="102.3" lengthAdjust="spacing" >Pliocene</text>
<text x="0" y="0" font-size="26.00" fill="#1c1c1c" transform="translate(743 913.9) scale(1.058 1)" textLength="140.9" lengthAdjust="spacing" >Palaeocene</text>
<text x="0" y="0" font-size="25.00" fill="#2b96c9" transform="translate(152.5 824.9) scale(1.075 1)" textLength="133.9" lengthAdjust="spacing" >Lower GHC</text>
<text x="0" y="0" font-size="25.00" fill="#2b96c9" transform="translate(168.5 854.8) scale(1.075 1)" textLength="76.3" lengthAdjust="spacing" >N=777</text>
<text x="0" y="0" font-size="25.00" fill="#6d6d6d" transform="translate(513 760.9) scale(1.103 1)" textLength="69.8" lengthAdjust="spacing" >Upper</text>
<text x="0" y="0" font-size="25.00" fill="#6d6d6d" transform="translate(521 789.7) scale(1.053 1)" textLength="57.0" lengthAdjust="spacing" >GHC</text>
<text x="0" y="0" font-size="25.00" fill="#6d6d6d" transform="translate(522.5 825.8) scale(1.062 1)" textLength="76.3" lengthAdjust="spacing" >N=461</text>
<text x="0" y="0" font-size="25.00" fill="#7390bd" transform="translate(653.5 847.5) scale(1.077 1)" textLength="165.3" lengthAdjust="spacing" >Foreland GHC</text>
<text x="0" y="0" font-size="25.00" fill="#7390bd" transform="translate(676 876.3) scale(1.064 1)" textLength="62.0" lengthAdjust="spacing" >N=98</text>
<rect x="614.2" y="662.6" width="279.4" height="138.4" fill="#ffffff" stroke="#1a1a1a" stroke-width="1.6"/>
<text x="0" y="0" font-size="24.50" fill="#1c1c1c" transform="translate(620 696) scale(1.110 1)" textLength="236.1" lengthAdjust="spacing" >Buchan Meta._STDS</text>
<text x="0" y="0" font-size="24.50" fill="#1c1c1c" transform="translate(620 725.2) scale(1.109 1)" textLength="114.5" lengthAdjust="spacing" >This study</text>
<rect x="624.2" y="734" width="11.6" height="22.2" fill="#7361ad" stroke="#2a2230" stroke-width="1.3"/>
<rect x="624.2" y="767.2" width="11.6" height="21.6" fill="#f5ac41" stroke="#2a2230" stroke-width="1.3"/>
<text x="0" y="0" font-size="24.50" fill="#1c1c1c" transform="translate(642.5 754) scale(1.129 1)" textLength="155.0" lengthAdjust="spacing" >Bt-Schist Mnz</text>
<text x="0" y="0" font-size="24.50" fill="#1c1c1c" transform="translate(642.5 787.9) scale(1.144 1)" textLength="178.3" lengthAdjust="spacing" >Calc-silicate Ttn</text>
<g stroke="#1a1a1a" stroke-width="1.8" fill="none">
<line x1="106.2" y1="0.8" x2="894.4" y2="0.8" stroke-width="2.2"/>
<line x1="107" y1="0" x2="107" y2="957.1999999999999"/>
<line x1="893.6" y1="0" x2="893.6" y2="957.1999999999999"/>
<line x1="92" y1="128.8" x2="893.6" y2="128.8"/>
<line x1="95" y1="366.6" x2="905.3" y2="366.6"/>
<line x1="95" y1="662.6" x2="903.6" y2="662.6"/>
<line x1="107" y1="956.3" x2="893.6" y2="956.3"/>
<line x1="106.3" y1="128.8" x2="106.3" y2="140.3"/>
<line x1="106.3" y1="366.6" x2="106.3" y2="378.1"/>
<line x1="106.3" y1="662.6" x2="106.3" y2="674.1"/>
<line x1="106.3" y1="956.3" x2="106.3" y2="971.8"/>
<line x1="129.8" y1="128.8" x2="129.8" y2="137.10000000000002"/>
<line x1="129.8" y1="366.6" x2="129.8" y2="374.90000000000003"/>
<line x1="129.8" y1="662.6" x2="129.8" y2="670.9"/>
<line x1="129.8" y1="956.3" x2="129.8" y2="966.3"/>
<line x1="157.4" y1="128.8" x2="157.4" y2="137.10000000000002"/>
<line x1="157.4" y1="366.6" x2="157.4" y2="374.90000000000003"/>
<line x1="157.4" y1="662.6" x2="157.4" y2="670.9"/>
<line x1="157.4" y1="956.3" x2="157.4" y2="966.3"/>
<line x1="183.4" y1="128.8" x2="183.4" y2="137.10000000000002"/>
<line x1="183.4" y1="366.6" x2="183.4" y2="374.90000000000003"/>
<line x1="183.4" y1="662.6" x2="183.4" y2="670.9"/>
<line x1="183.4" y1="956.3" x2="183.4" y2="966.3"/>
<line x1="208.5" y1="128.8" x2="208.5" y2="137.10000000000002"/>
<line x1="208.5" y1="366.6" x2="208.5" y2="374.90000000000003"/>
<line x1="208.5" y1="662.6" x2="208.5" y2="670.9"/>
<line x1="208.5" y1="956.3" x2="208.5" y2="966.3"/>
<line x1="236.4" y1="128.8" x2="236.4" y2="140.3"/>
<line x1="236.4" y1="366.6" x2="236.4" y2="378.1"/>
<line x1="236.4" y1="662.6" x2="236.4" y2="674.1"/>
<line x1="236.4" y1="956.3" x2="236.4" y2="971.8"/>
<line x1="261.8" y1="128.8" x2="261.8" y2="137.10000000000002"/>
<line x1="261.8" y1="366.6" x2="261.8" y2="374.90000000000003"/>
<line x1="261.8" y1="662.6" x2="261.8" y2="670.9"/>
<line x1="261.8" y1="956.3" x2="261.8" y2="966.3"/>
<line x1="288.1" y1="128.8" x2="288.1" y2="137.10000000000002"/>
<line x1="288.1" y1="366.6" x2="288.1" y2="374.90000000000003"/>
<line x1="288.1" y1="662.6" x2="288.1" y2="670.9"/>
<line x1="288.1" y1="956.3" x2="288.1" y2="966.3"/>
<line x1="314.1" y1="128.8" x2="314.1" y2="137.10000000000002"/>
<line x1="314.1" y1="366.6" x2="314.1" y2="374.90000000000003"/>
<line x1="314.1" y1="662.6" x2="314.1" y2="670.9"/>
<line x1="314.1" y1="956.3" x2="314.1" y2="966.3"/>
<line x1="340.2" y1="128.8" x2="340.2" y2="137.10000000000002"/>
<line x1="340.2" y1="366.6" x2="340.2" y2="374.90000000000003"/>
<line x1="340.2" y1="662.6" x2="340.2" y2="670.9"/>
<line x1="340.2" y1="956.3" x2="340.2" y2="966.3"/>
<line x1="365.6" y1="128.8" x2="365.6" y2="140.3"/>
<line x1="365.6" y1="366.6" x2="365.6" y2="378.1"/>
<line x1="365.6" y1="662.6" x2="365.6" y2="674.1"/>
<line x1="365.6" y1="956.3" x2="365.6" y2="971.8"/>
<line x1="393.3" y1="128.8" x2="393.3" y2="137.10000000000002"/>
<line x1="393.3" y1="366.6" x2="393.3" y2="374.90000000000003"/>
<line x1="393.3" y1="662.6" x2="393.3" y2="670.9"/>
<line x1="393.3" y1="956.3" x2="393.3" y2="966.3"/>
<line x1="421.5" y1="128.8" x2="421.5" y2="137.10000000000002"/>
<line x1="421.5" y1="366.6" x2="421.5" y2="374.90000000000003"/>
<line x1="421.5" y1="662.6" x2="421.5" y2="670.9"/>
<line x1="421.5" y1="956.3" x2="421.5" y2="966.3"/>
<line x1="446.6" y1="128.8" x2="446.6" y2="137.10000000000002"/>
<line x1="446.6" y1="366.6" x2="446.6" y2="374.90000000000003"/>
<line x1="446.6" y1="662.6" x2="446.6" y2="670.9"/>
<line x1="446.6" y1="956.3" x2="446.6" y2="966.3"/>
<line x1="472.9" y1="128.8" x2="472.9" y2="137.10000000000002"/>
<line x1="472.9" y1="366.6" x2="472.9" y2="374.90000000000003"/>
<line x1="472.9" y1="662.6" x2="472.9" y2="670.9"/>
<line x1="472.9" y1="956.3" x2="472.9" y2="966.3"/>
<line x1="499.8" y1="128.8" x2="499.8" y2="140.3"/>
<line x1="499.8" y1="366.6" x2="499.8" y2="378.1"/>
<line x1="499.8" y1="662.6" x2="499.8" y2="674.1"/>
<line x1="499.8" y1="956.3" x2="499.8" y2="971.8"/>
<line x1="525.5" y1="128.8" x2="525.5" y2="137.10000000000002"/>
<line x1="525.5" y1="366.6" x2="525.5" y2="374.90000000000003"/>
<line x1="525.5" y1="662.6" x2="525.5" y2="670.9"/>
<line x1="525.5" y1="956.3" x2="525.5" y2="966.3"/>
<line x1="553.1" y1="128.8" x2="553.1" y2="137.10000000000002"/>
<line x1="553.1" y1="366.6" x2="553.1" y2="374.90000000000003"/>
<line x1="553.1" y1="662.6" x2="553.1" y2="670.9"/>
<line x1="553.1" y1="956.3" x2="553.1" y2="966.3"/>
<line x1="578.2" y1="128.8" x2="578.2" y2="137.10000000000002"/>
<line x1="578.2" y1="366.6" x2="578.2" y2="374.90000000000003"/>
<line x1="578.2" y1="662.6" x2="578.2" y2="670.9"/>
<line x1="578.2" y1="956.3" x2="578.2" y2="966.3"/>
<line x1="604.5" y1="128.8" x2="604.5" y2="137.10000000000002"/>
<line x1="604.5" y1="366.6" x2="604.5" y2="374.90000000000003"/>
<line x1="604.5" y1="662.6" x2="604.5" y2="670.9"/>
<line x1="604.5" y1="956.3" x2="604.5" y2="966.3"/>
<line x1="631.7" y1="128.8" x2="631.7" y2="140.3"/>
<line x1="631.7" y1="366.6" x2="631.7" y2="378.1"/>
<line x1="631.7" y1="662.6" x2="631.7" y2="674.1"/>
<line x1="631.7" y1="956.3" x2="631.7" y2="971.8"/>
<line x1="657" y1="128.8" x2="657" y2="137.10000000000002"/>
<line x1="657" y1="366.6" x2="657" y2="374.90000000000003"/>
<line x1="657" y1="662.6" x2="657" y2="670.9"/>
<line x1="657" y1="956.3" x2="657" y2="966.3"/>
<line x1="683.3" y1="128.8" x2="683.3" y2="137.10000000000002"/>
<line x1="683.3" y1="366.6" x2="683.3" y2="374.90000000000003"/>
<line x1="683.3" y1="662.6" x2="683.3" y2="670.9"/>
<line x1="683.3" y1="956.3" x2="683.3" y2="966.3"/>
<line x1="710.3" y1="128.8" x2="710.3" y2="137.10000000000002"/>
<line x1="710.3" y1="366.6" x2="710.3" y2="374.90000000000003"/>
<line x1="710.3" y1="662.6" x2="710.3" y2="670.9"/>
<line x1="710.3" y1="956.3" x2="710.3" y2="966.3"/>
<line x1="736.6" y1="128.8" x2="736.6" y2="137.10000000000002"/>
<line x1="736.6" y1="366.6" x2="736.6" y2="374.90000000000003"/>
<line x1="736.6" y1="662.6" x2="736.6" y2="670.9"/>
<line x1="736.6" y1="956.3" x2="736.6" y2="966.3"/>
<line x1="763.3" y1="128.8" x2="763.3" y2="140.3"/>
<line x1="763.3" y1="366.6" x2="763.3" y2="378.1"/>
<line x1="763.3" y1="662.6" x2="763.3" y2="674.1"/>
<line x1="763.3" y1="956.3" x2="763.3" y2="971.8"/>
<line x1="789.3" y1="128.8" x2="789.3" y2="137.10000000000002"/>
<line x1="789.3" y1="366.6" x2="789.3" y2="374.90000000000003"/>
<line x1="789.3" y1="662.6" x2="789.3" y2="670.9"/>
<line x1="789.3" y1="956.3" x2="789.3" y2="966.3"/>
<line x1="815" y1="128.8" x2="815" y2="137.10000000000002"/>
<line x1="815" y1="366.6" x2="815" y2="374.90000000000003"/>
<line x1="815" y1="662.6" x2="815" y2="670.9"/>
<line x1="815" y1="956.3" x2="815" y2="966.3"/>
<line x1="842" y1="128.8" x2="842" y2="137.10000000000002"/>
<line x1="842" y1="366.6" x2="842" y2="374.90000000000003"/>
<line x1="842" y1="662.6" x2="842" y2="670.9"/>
<line x1="842" y1="956.3" x2="842" y2="966.3"/>
<line x1="868.3" y1="128.8" x2="868.3" y2="137.10000000000002"/>
<line x1="868.3" y1="366.6" x2="868.3" y2="374.90000000000003"/>
<line x1="868.3" y1="662.6" x2="868.3" y2="670.9"/>
<line x1="868.3" y1="956.3" x2="868.3" y2="966.3"/>
<line x1="892.8" y1="128.8" x2="892.8" y2="140.3"/>
<line x1="892.8" y1="366.6" x2="892.8" y2="378.1"/>
<line x1="892.8" y1="662.6" x2="892.8" y2="674.1"/>
<line x1="892.8" y1="956.3" x2="892.8" y2="971.8"/>
<line x1="95.5" y1="147" x2="107" y2="147"/>
<line x1="95.5" y1="201.5" x2="107" y2="201.5"/>
<line x1="95.5" y1="256.7" x2="107" y2="256.7"/>
<line x1="95.5" y1="311.6" x2="107" y2="311.6"/>
<line x1="893.6" y1="329.2" x2="905.3" y2="329.2"/>
<line x1="893.6" y1="292.2" x2="905.3" y2="292.2"/>
<line x1="893.6" y1="255.2" x2="905.3" y2="255.2"/>
<line x1="893.6" y1="218.1" x2="905.3" y2="218.1"/>
<line x1="893.6" y1="181.1" x2="905.3" y2="181.1"/>
<line x1="893.6" y1="144.0" x2="905.3" y2="144.0"/>
<line x1="893.6" y1="639.2" x2="903.6" y2="639.2"/>
<line x1="893.6" y1="616.0" x2="903.6" y2="616.0"/>
<line x1="893.6" y1="592.8" x2="903.6" y2="592.8"/>
<line x1="893.6" y1="569.6" x2="903.6" y2="569.6"/>
<line x1="893.6" y1="546.4" x2="903.6" y2="546.4"/>
<line x1="893.6" y1="523.2" x2="903.6" y2="523.2"/>
<line x1="893.6" y1="500.0" x2="903.6" y2="500.0"/>
<line x1="893.6" y1="476.8" x2="903.6" y2="476.8"/>
<line x1="893.6" y1="453.6" x2="903.6" y2="453.6"/>
</g>
<text x="0" y="0" font-size="28.00" fill="#1c1c1c" transform="translate(106 993) scale(1.040 1)" text-anchor="middle" >0</text>
<text x="0" y="0" font-size="28.00" fill="#1c1c1c" transform="translate(219.3 993) scale(1.014 1)" textLength="31.9" lengthAdjust="spacing" >10</text>
<text x="0" y="0" font-size="28.00" fill="#1c1c1c" transform="translate(348.8 993) scale(1.014 1)" textLength="31.9" lengthAdjust="spacing" >20</text>
<text x="0" y="0" font-size="28.00" fill="#1c1c1c" transform="translate(484.3 993) scale(1.014 1)" textLength="31.9" lengthAdjust="spacing" >30</text>
<text x="0" y="0" font-size="28.00" fill="#1c1c1c" transform="translate(612.8 993) scale(1.014 1)" textLength="31.9" lengthAdjust="spacing" >40</text>
<text x="0" y="0" font-size="28.00" fill="#1c1c1c" transform="translate(744.3 993) scale(1.014 1)" textLength="31.9" lengthAdjust="spacing" >50</text>
<text x="0" y="0" font-size="28.00" fill="#1c1c1c" transform="translate(880.8 993) scale(1.014 1)" textLength="31.9" lengthAdjust="spacing" >60</text>
<text x="0" y="0" font-size="27.80" fill="#1c1c1c" transform="translate(312 1017.5) scale(1.102 1)" textLength="337.6" lengthAdjust="spacing" >Age (millions of years ago)</text>
<text x="0" y="0" font-size="28.00" fill="#1c1c1c" transform="translate(60.5 162) scale(1.033 1)" textLength="31.9" lengthAdjust="spacing" >40</text>
<text x="0" y="0" font-size="28.00" fill="#1c1c1c" transform="translate(60.5 210.4) scale(1.033 1)" textLength="31.9" lengthAdjust="spacing" >30</text>
<text x="0" y="0" font-size="28.00" fill="#1c1c1c" transform="translate(60.5 267) scale(1.033 1)" textLength="31.9" lengthAdjust="spacing" >20</text>
<text x="0" y="0" font-size="28.00" fill="#1c1c1c" transform="translate(60.5 320.8) scale(1.033 1)" textLength="31.9" lengthAdjust="spacing" >10</text>
<text x="0" y="0" font-size="28.00" fill="#1c1c1c" transform="translate(74.2 375.8) scale(1.040 1)" >0</text>
<text x="0" y="0" font-size="28.00" fill="#1c1c1c" transform="translate(88 130.3) rotate(-90) scale(1.040 1)" >5</text>
<text x="0" y="0" font-size="28.00" fill="#1c1c1c" transform="translate(909 375.5) scale(1.040 1)" >0</text>
<text x="0" y="0" font-size="28.00" fill="#1c1c1c" transform="translate(909 338.4) scale(1.040 1)" >1</text>
<text x="0" y="0" font-size="28.00" fill="#1c1c1c" transform="translate(909 301.4) scale(1.040 1)" >2</text>
<text x="0" y="0" font-size="28.00" fill="#1c1c1c" transform="translate(909 264.4) scale(1.040 1)" >3</text>
<text x="0" y="0" font-size="28.00" fill="#1c1c1c" transform="translate(909 227.3) scale(1.040 1)" >4</text>
<text x="0" y="0" font-size="28.00" fill="#1c1c1c" transform="translate(909 190.2) scale(1.040 1)" >5</text>
<text x="0" y="0" font-size="28.00" fill="#1c1c1c" transform="translate(909 153.2) scale(1.040 1)" >6</text>
<text x="0" y="0" font-size="26.00" fill="#1c1c1c" transform="translate(906 671.6) scale(1.040 1)" >0</text>
<text x="0" y="0" font-size="26.00" fill="#1c1c1c" transform="translate(906 648.4) scale(1.040 1)" >1</text>
<text x="0" y="0" font-size="26.00" fill="#1c1c1c" transform="translate(906 625.2) scale(1.040 1)" >2</text>
<text x="0" y="0" font-size="26.00" fill="#1c1c1c" transform="translate(906 602.0) scale(1.040 1)" >3</text>
<text x="0" y="0" font-size="26.00" fill="#1c1c1c" transform="translate(906 578.8) scale(1.040 1)" >4</text>
<text x="0" y="0" font-size="26.00" fill="#1c1c1c" transform="translate(906 555.6) scale(1.040 1)" >5</text>
<text x="0" y="0" font-size="26.00" fill="#1c1c1c" transform="translate(906 532.4) scale(1.040 1)" >6</text>
<text x="0" y="0" font-size="26.00" fill="#1c1c1c" transform="translate(906 509.2) scale(1.040 1)" >7</text>
<text x="0" y="0" font-size="26.00" fill="#1c1c1c" transform="translate(906 486.0) scale(1.040 1)" >8</text>
<text x="0" y="0" font-size="26.00" fill="#1c1c1c" transform="translate(906 462.8) scale(1.040 1)" >9</text>
<text x="0" y="0" font-size="27.20" fill="#1c1c1c" transform="translate(20.5 361) rotate(-90) scale(1.137 1)" textLength="156.6" lengthAdjust="spacing" >Sedimentary</text>
<text x="0" y="0" font-size="27.50" fill="#1c1c1c" transform="translate(53.8 357) rotate(-90) scale(1.094 1)" textLength="153.6" lengthAdjust="spacing" >rate (mm/yr)</text>
<text x="0" y="0" font-size="28.00" fill="#1c1c1c" transform="translate(950.5 328) rotate(-90) scale(1.098 1)" textLength="161.2" lengthAdjust="spacing" >Altitude (km)</text>
<text x="0" y="0" font-size="28.00" fill="#1c1c1c" transform="translate(942.6 574) rotate(-90) scale(1.028 1)" textLength="102.1" lengthAdjust="spacing" >Number</text>
<text x="0" y="0" font-size="28.00" fill="#1c1c1c" transform="translate(31.2 636) rotate(-90) scale(1.120 1)" textLength="166.1" lengthAdjust="spacing" >Leucogranite</text>
<text x="0" y="0" font-size="28.00" fill="#1c1c1c" transform="translate(62.5 636) rotate(-90) scale(1.079 1)" textLength="172.4" lengthAdjust="spacing" >emplacement</text>
<text x="0" y="0" font-size="28.00" fill="#1c1c1c" transform="translate(94.5 637.5) rotate(-90) scale(1.096 1)" textLength="185.2" lengthAdjust="spacing" >ages probaility</text>
<text x="0" y="0" font-size="28.00" fill="#1c1c1c" transform="translate(28.7 941) rotate(-90) scale(1.091 1)" textLength="135.7" lengthAdjust="spacing" >Himalayan</text>
<text x="0" y="0" font-size="28.00" fill="#1c1c1c" transform="translate(61.5 941) rotate(-90) scale(1.096 1)" textLength="166.0" lengthAdjust="spacing" >Metamorphic</text>
<text x="0" y="0" font-size="28.00" fill="#1c1c1c" transform="translate(93.7 941) rotate(-90) scale(1.107 1)" textLength="185.2" lengthAdjust="spacing" >ages probaility</text>
<circle cx="30.6" cy="152.2" r="24.3" fill="#ffffff" stroke="#1a1a1a" stroke-width="2"/>
<text x="0" y="0" font-size="45.00" fill="#2a2522" transform="translate(30.6 164.39999999999998) scale(0.960 1)" text-anchor="middle" font-weight="bold" >a</text>
<circle cx="29.5" cy="401.6" r="24.3" fill="#ffffff" stroke="#1a1a1a" stroke-width="2"/>
<text x="0" y="0" font-size="45.00" fill="#2a2522" transform="translate(29.5 417.20000000000005) scale(0.960 1)" text-anchor="middle" font-weight="bold" >b</text>
<circle cx="34.5" cy="699.6" r="24.3" fill="#ffffff" stroke="#1a1a1a" stroke-width="2"/>
<text x="0" y="0" font-size="45.00" fill="#2a2522" transform="translate(34.5 712.4) scale(0.960 1)" text-anchor="middle" font-weight="bold" >c</text>
</svg>
</body></html>
